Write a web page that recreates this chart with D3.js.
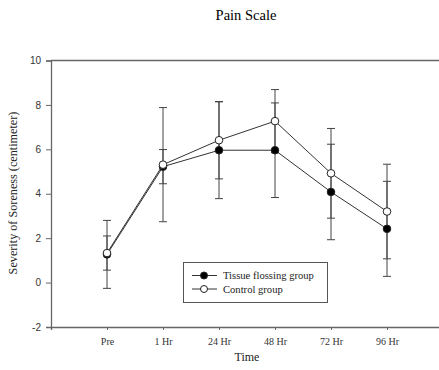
<!DOCTYPE html>
<html>
<head>
<meta charset="utf-8">
<script src="https://cdn.jsdelivr.net/npm/d3@7"></script>
<style>
  body { margin: 0; background: #fff; }
</style>
</head>
<body>
<div id="chart"></div>
<script>
// data
const times = ["Pre", "1 Hr", "24 Hr", "48 Hr", "72 Hr", "96 Hr"];
const tissueMean = [1.27, 5.22, 5.96, 5.96, 4.08, 2.42];
const tissueSD   = [1.53, 0.77, 2.18, 2.13, 2.15, 2.14];
const controlMean = [1.33, 5.31, 6.41, 7.27, 4.92, 3.2];
const controlSD   = [0.77, 2.57, 1.74, 1.42, 2.02, 2.13];
const yTicks = [-2, 0, 2, 4, 6, 8, 10];

const W = 439, H = 370;
const svg = d3.select("#chart").append("svg")
  .attr("width", W).attr("height", H);

const x = d3.scaleLinear().domain([-1, 6]).range([51, 443]);
const y = d3.scaleLinear().domain([-2, 10]).range([327, 60.5]);

const axisColor = "#666", lineColor = "#333";

// Title
svg.append("text")
  .attr("x", 246).attr("y", 20)
  .attr("text-anchor", "middle")
  .style("font-family", "Liberation Serif")
  .style("font-size", "14.5px")
  .text("Pain Scale");

// frame top line
svg.append("line").attr("x1", x(-1)).attr("x2", W).attr("y1", y(10)).attr("y2", y(10))
  .attr("stroke", axisColor).attr("stroke-width", 1.3);

// Y axis
const yAxis = svg.append("g")
  .attr("transform", `translate(${x(-1)},0)`)
  .call(d3.axisLeft(y).tickValues(yTicks).tickSize(5).tickPadding(5).tickFormat(d => String(d)));
yAxis.select(".domain").attr("stroke", axisColor).attr("stroke-width", 1.3);
yAxis.selectAll(".tick line").attr("stroke", axisColor);
yAxis.selectAll("text")
  .style("font-family", "Liberation Sans")
  .style("font-size", "10px")
  .attr("fill", "#333");

// X axis
const xAxis = svg.append("g")
  .attr("transform", `translate(0,${y(-2)})`)
  .call(d3.axisBottom(x).tickValues(d3.range(times.length)).tickSize(3).tickPadding(8)
    .tickFormat(i => times[i]));
xAxis.select(".domain").attr("stroke", axisColor).attr("stroke-width", 1.3);
xAxis.selectAll(".tick line").attr("stroke", axisColor);
xAxis.selectAll("text")
  .style("font-family", "Liberation Serif")
  .style("font-size", "10px")
  .attr("fill", "#333");

// Axis labels
svg.append("text")
  .attr("x", 247).attr("y", 361)
  .attr("text-anchor", "middle")
  .style("font-family", "Liberation Serif")
  .style("font-size", "12px")
  .attr("fill", "#222")
  .text("Time");

svg.append("text")
  .attr("text-anchor", "middle")
  .attr("transform", "translate(17,193)rotate(-90)")
  .style("font-family", "Liberation Serif")
  .style("font-size", "12.2px")
  .attr("fill", "#222")
  .text("Severity of Soreness (centimeter)");

// error bars
function errorBars(mean, sd) {
  const g = svg.append("g").attr("stroke", "#444").attr("stroke-width", 1);
  mean.forEach((m, i) => {
    const cx = x(i);
    g.append("line").attr("x1", cx).attr("x2", cx).attr("y1", y(m - sd[i])).attr("y2", y(m + sd[i]));
    [m - sd[i], m + sd[i]].forEach(v => {
      g.append("line").attr("x1", cx - 4).attr("x2", cx + 4).attr("y1", y(v)).attr("y2", y(v));
    });
  });
}
errorBars(controlMean, controlSD);
errorBars(tissueMean, tissueSD);

const line = d3.line().x((d, i) => x(i)).y(d => y(d));

function series(mean, fill) {
  svg.append("path").datum(mean)
    .attr("fill", "none").attr("stroke", lineColor).attr("stroke-width", 1)
    .attr("d", line);
  svg.append("g").selectAll("circle").data(mean).join("circle")
    .attr("cx", (d, i) => x(i)).attr("cy", d => y(d)).attr("r", 3.8)
    .attr("fill", fill).attr("stroke", "#222").attr("stroke-width", 1);
}
series(tissueMean, "#000");
series(controlMean, "#fff");

// Legend
const lg = svg.append("g");
lg.append("rect").attr("x", 183.5).attr("y", 262.5).attr("width", 144).attr("height", 40)
  .attr("fill", "#fff").attr("stroke", "#555").attr("stroke-width", 1);
[["Tissue flossing group", "#000", 275.5], ["Control group", "#fff", 289]].forEach(([label, fill, ly]) => {
  lg.append("line").attr("x1", 192).attr("x2", 217).attr("y1", ly).attr("y2", ly)
    .attr("stroke", lineColor).attr("stroke-width", 1);
  lg.append("circle").attr("cx", 204).attr("cy", ly).attr("r", 3.5)
    .attr("fill", fill).attr("stroke", "#222");
  lg.append("text").attr("x", 223).attr("y", ly + 3.5)
    .style("font-family", "Liberation Serif").style("font-size", "10.6px")
    .attr("fill", "#222")
    .text(label);
});
</script>
</body>
</html>
